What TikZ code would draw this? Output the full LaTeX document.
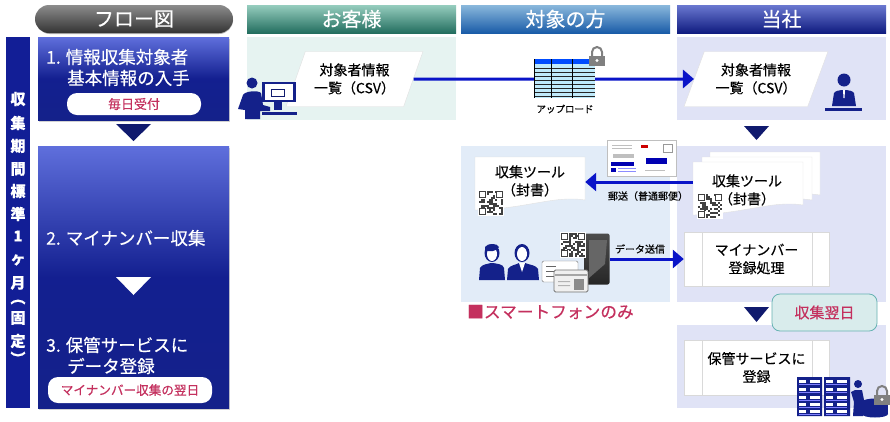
\documentclass[tikz,border=0pt]{standalone}
\usepackage{fontspec}
\setmainfont[FakeBold=0.35]{Noto Sans CJK JP}
\usetikzlibrary{shapes.geometric,shadows,arrows.meta}
\definecolor{navyblue}{HTML}{14218A}
\definecolor{arrowblue}{HTML}{0A14C8}
\definecolor{crimson}{HTML}{C4305E}
\definecolor{steptop}{HTML}{5F6FDC}
\definecolor{clientpanel}{HTML}{E6F3F1}
\definecolor{ownpanel}{HTML}{E0E3F6}
\definecolor{targetpanel}{HTML}{E2ECF8}
\newcommand{\fsz}[1]{\fontsize{#1}{#1}\selectfont}
\tikzset{
	headbar/.style={minimum width=209,minimum height=28,inner sep=0,text=white,font=\fsz{20}},
	stepbox/.style={minimum width=191,inner sep=0,drop shadow={opacity=0.35,shadow xshift=1pt,shadow yshift=-2pt},
		top color=steptop,bottom color=navyblue,middle color=navyblue!95!blue},
	steptext/.style={anchor=west,inner sep=0,text=white,font=\fontsize{17.5}{21}\selectfont},
	pill/.style={fill=white,rounded corners=10pt,inner sep=0,text=crimson},
	csvbox/.style={trapezium,trapezium stretches=true,trapezium left angle=63,trapezium right angle=117,fill=white,
		draw=black!12,minimum height=55,inner sep=0,align=center,font=\fontsize{14}{18}\selectfont},
	procbox/.style={minimum width=145,fill=white,draw=black!15,inner sep=0,align=center,font=\fontsize{14}{18}\selectfont},
	blacktext/.style={align=center,inner sep=0,font=\fontsize{14}{18}\selectfont},
	smalltext/.style={inner sep=0,font=\fsz{10}},
	bararrow/.style={draw=arrowblue,line width=3pt,-{Triangle[length=11pt,width=18pt]}},
	downmark/.style={fill=navyblue!80!black},
	sheet/.pic={\fill[white,draw=black!12] (0,0) -- (110,0) -- (110,43) .. controls (80,38) and (50,52) .. (0,53) -- cycle;},
	qrmark/.pic={
		\fill[white] (-1,-1) rectangle (25,25);
		\pgfmathsetseed{#1}
		\foreach \i in {0,...,11}\foreach \j in {0,...,11}{
			\pgfmathrandominteger{\qrbit}{0}{1}
			\ifnum\qrbit=1 \fill[black!75] (2*\i,2*\j) rectangle ++(2,2);\fi}
		\foreach \i/\j in {0/0,17/0,0/17}{
			\fill[white] (\i-0.5,\j-0.5) rectangle ++(8,8);
			\draw[black!75,line width=1.2pt] (\i+0.5,\j+0.5) rectangle ++(6,6);}
	},
	lockmark/.pic={
		\draw[black!50,line width=2pt] (-5,-9) -- (-5,-14) arc (180:360:5) -- (5,-9);
		\fill[black!50] (-8,-10) rectangle (8,0);
		\fill[white] (0,-5.5) circle[radius=1.6];
	},
}
\begin{document}
\begin{tikzpicture}[x=1pt,y=-1pt]
	\useasboundingbox (0,0) rectangle (890,421);
	\fill[white] (0,0) rectangle (890,421);
	\fill[black!30,rounded corners=14pt] (36,7) rectangle (233,34);
	\node (hdrFlow) at (134,19)[minimum width=198,minimum height=28,inner sep=0,rounded corners=14pt,top color=black!45,bottom color=black!80,text=white,font=\fsz{20}] {フロー図};
	\node (hdrClient) at (351.5,19)[headbar,top color={rgb,255:red,150;green,205;blue,190},bottom color={rgb,255:red,35;green,110;blue,95}] {お客様};
	\node (hdrTarget) at (565.5,19)[headbar,top color={rgb,255:red,138;green,184;blue,220},bottom color={rgb,255:red,26;green,92;blue,168}] {対象の方};
	\node (hdrOwn) at (781.5,19)[headbar,top color={rgb,255:red,106;green,120;blue,208},bottom color={rgb,255:red,16;green,28;blue,128}] {当社};
	\fill[clientpanel] (247,37) rectangle (456,120);
	\fill[ownpanel] (677,37) rectangle (886,120);
	\fill[targetpanel] (461,146) rectangle (670,302);
	\fill[ownpanel] (677,146) rectangle (886,302);
	\fill[ownpanel] (677,325) rectangle (886,408);
	\fill[navyblue!90!blue] (6,37) rectangle (30,408);
	\foreach \ch/\ypos/\lname in {収/99/a,集/123/b,期/146/c,間/169/d,標/191/e,準/214/f,1/236/g,ヶ/260/h,月/283/i,︵/302/j,固/318/k,定/341/l,︶/358/m}
		\node (bar\lname) at (18,\ypos)[inner sep=0,text=white,font=\bfseries\fsz{15}] {\ch};
	\node (stepOne) at (133.5,78.5)[stepbox,minimum height=83] {};
	\node (stepTwo) at (133.5,277)[stepbox,minimum height=262] {};
	\node (txtOneA) at (46,57)[steptext] {1.\hspace{5pt}情報収集対象者};
	\node (txtOneB) at (67,78)[steptext] {基本情報の入手};
	\node (pillOne) at (134,104)[pill,minimum width=134,minimum height=22,font=\fsz{13}] {毎日受付};
	\fill[downmark] (116,124) -- (151,124) -- (133.5,141) -- cycle;
	\node (txtTwo) at (46,238)[steptext] {2.\hspace{5pt}マイナンバー収集};
	\fill[white] (116,277) -- (151,277) -- (133.5,295) -- cycle;
	\node (txtThreeA) at (46,345)[steptext] {3.\hspace{5pt}保管サービスに};
	\node (txtThreeB) at (67,366)[steptext] {データ登録};
	\node (pillThree) at (130,390)[pill,minimum width=164,minimum height=26,font=\fsz{12.6}] {マイナンバー収集の翌日};
	\node (csvClient) at (354.5,79)[csvbox,minimum width=137] {対象者情報\\一覧（CSV）};
	\node (csvOwn) at (756,79)[csvbox,minimum width=144] {対象者情報\\一覧（CSV）};
	\draw[bararrow] (csvClient.east) -- (csvOwn.west);
	\node (tableIcon) at (564.5,78.5)[minimum width=61,minimum height=39,inner sep=0,fill=cyan!25!white] {};
	\fill[blue!70!cyan] (534,59) rectangle (595,64);
	\foreach \ypos in {68,72,...,96}
		\draw[black!85,line width=0.8pt] (534,\ypos) -- (595,\ypos);
	\foreach \xpos in {534,551,572}
		\draw[black,line width=0.9pt] (\xpos,59) -- (\xpos,98);
	\pic at (597,66) {lockmark};
	\node (uploadLabel) at (565,109)[smalltext,font=\fsz{9.5}] {アップロード};
	\fill[navyblue] (252,83) circle[radius=5.5];
	\fill[navyblue] (238,109) -- (243,95) .. controls (245,91) and (258,90) .. (261,93) -- (263,105) -- (270,107) -- (270,111) -- (260,111) -- (260,119) -- (245,119) -- (245,110) -- cycle;
	\draw[navyblue,line width=2.5pt,fill=white] (263.5,83) rectangle (294.5,101);
	\draw[navyblue!80!black,line width=1pt] (271,89) rectangle (284,96);
	\fill[navyblue] (274,102) rectangle (282,110);
	\fill[navyblue] (262,112) rectangle (297,115);
	\fill[navyblue] (844,80) circle[radius=6.5];
	\fill[navyblue] (832,106) -- (834,93) .. controls (836,89) and (852,89) .. (854,93) -- (856,106) -- cycle;
	\fill[white] (843,90) -- (845,90) -- (844.5,98) -- (843.5,98) -- cycle;
	\fill[navyblue] (825,108) rectangle (862,111);
	\fill[downmark] (744,126) -- (769,126) -- (756.5,140) -- cycle;
	\pic at (710,152) {sheet};
	\pic at (702,157) {sheet};
	\pic at (693,162) {sheet};
	\pic at (475,157) {sheet};
	\node (sheetOwn) at (748,182)[minimum width=110,minimum height=30,inner sep=0] {};
	\node (sheetTarget) at (530,182)[minimum width=110,minimum height=30,inner sep=0] {};
	\draw[bararrow] (sheetOwn.west) -- (sheetTarget.east);
	\node (txtSheetOwn) at (747,190)[blacktext] {収集ツール\\（封書）};
	\node (txtSheetTarget) at (530,181)[blacktext] {収集ツール\\（封書）};
	\pic at (698,194) {qrmark=11};
	\pic at (479,191) {qrmark=23};
	\node (mailSheet) at (641.5,158)[minimum width=69,minimum height=36,inner sep=0,fill=white,draw=black!25] {};
	\fill[blue!70!black] (611,162) rectangle (634,166);
	\fill[blue!70!black] (646,158) rectangle (667,164);
	\fill[red!80!black] (641,145) rectangle (648,148);
	\fill[black!25] (613,154) rectangle (634,158);
	\fill[blue!70!black] (611,168) rectangle (616,172);
	\foreach \ypos in {168,171}
		\draw[blue!45,line width=0.6pt] (618,\ypos) -- (636,\ypos);
	\draw[black!40,line width=0.5pt] (663,144) rectangle (672,152);
	\foreach \ypos in {145,148}
		\draw[black!25,line width=0.6pt] (612,\ypos) -- (632,\ypos);
	\draw[black!25,line width=0.6pt] (645,170) -- (665,170);
	\node (mailLabel) at (648,196)[smalltext] {郵送（普通郵便）};
	\node (regBox) at (756.5,259)[procbox,minimum height=54] {マイナンバー\\登録処理};
	\draw[black!15] (702,232) -- (702,286) (812,232) -- (812,286);
	\node (storeBox) at (756.5,367.5)[procbox,minimum height=55] {保管サービスに\\登録};
	\draw[black!15] (702,340) -- (702,395) (812,340) -- (812,395);
	\foreach \xpos in {492,522}{
		\fill[navyblue] (\xpos,253) ellipse[x radius=7.5,y radius=9];
		\fill[white] (\xpos,254) ellipse[x radius=5,y radius=7];
	}
	\fill[navyblue] (485,247) .. controls (487,243) and (498,243) .. (499,247) .. controls (496,252) and (489,252) .. (485,250) -- cycle;
	\fill[navyblue] (479,280) -- (480,268) .. controls (482,264) and (488,264) .. (491,263) -- (493,263) .. controls (498,264) and (503,264) .. (504,268) -- (505,280) -- cycle;
	\fill[navyblue] (507,280) -- (508,269) .. controls (510,265) and (516,265) .. (519,263) -- (525,263) .. controls (530,265) and (536,265) .. (538,269) -- (539,280) -- cycle;
	\fill[white] (519,263) -- (525,263) -- (522,272) -- cycle;
	\node (phone) at (597,259)[minimum width=25,minimum height=51,inner sep=0,rounded corners=2pt,top color=black!70,bottom color=black!85] {};
	\fill[black!60] (589,240) -- (607,240) -- (605,264) -- (589,278) -- cycle;
	\pic at (561,233) {qrmark=37};
	\draw[black!55,fill=white,rounded corners=1.5pt] (542,261) rectangle (578,282);
	\foreach \ypos in {266,271,276}
		\draw[black!60,line width=0.7pt] (546,\ypos) -- (556,\ypos);
	\draw[black!55,line width=0.8pt,fill=black!6,rounded corners=1.5pt] (554,270) rectangle (588,292);
	\fill[black!35] (555,274) rectangle (587,276);
	\fill[black!45] (574,279) rectangle (584,290);
	\fill[black!30] (558,281) rectangle (570,282) (558,285) rectangle (570,286);
	\draw[bararrow] (phone.east) -- (regBox.west);
	\node (dataLabel) at (640,249)[smalltext] {データ送信};
	\node (smartNote) at (467,312)[anchor=west,inner sep=0,text=crimson,font=\fsz{16.7}] {■スマートフォンのみ};
	\fill[downmark] (744,307) -- (769,307) -- (756.5,322) -- cycle;
	\node (nextDay) at (824.5,312.5)[minimum width=105,minimum height=37,inner sep=0,rounded corners=8pt,fill=teal!15,draw=teal!60!white,line width=0.8pt,text=crimson,font=\fsz{15}] {収集翌日};
	\fill[navyblue] (797,377) rectangle (822,416) (824,377) rectangle (850,416);
	\foreach \xpos in {799,826}\foreach \ypos in {380,388,396,403,410}{
		\fill[white] (\xpos,\ypos) rectangle ++(7,2.5);
		\fill[white] (\xpos+11,\ypos) rectangle ++(10,2.5);
		\draw[blue!50!white,line width=0.5pt] (\xpos,\ypos+4) -- ++(21,0);
	}
	\fill[navyblue] (858,384) circle[radius=4];
	\fill[navyblue] (851,392) -- (855,390) -- (862,390) -- (864,400) -- (863,416) -- (853,416) -- (854,402) -- cycle;
	\fill[navyblue] (862,402) rectangle (888,414);
	\fill[navyblue] (875,402) ellipse[x radius=13,y radius=3.5];
	\fill[navyblue] (875,414) ellipse[x radius=13,y radius=3.5];
	\pic at (882,405) {lockmark};
\end{tikzpicture}
\end{document}
